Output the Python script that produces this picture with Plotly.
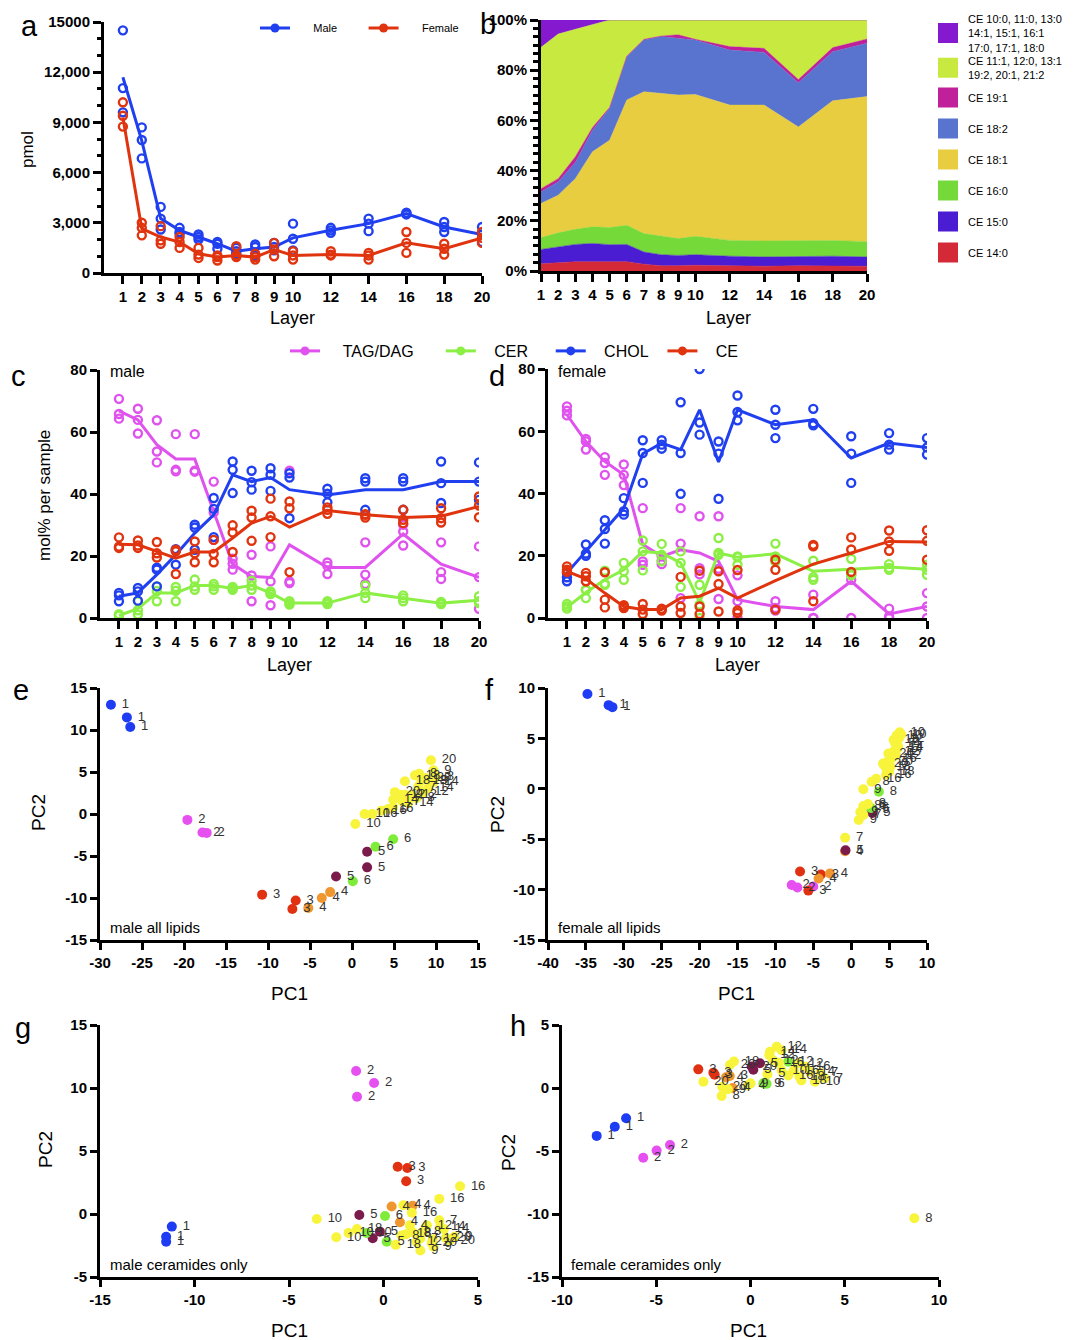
import plotly.graph_objects as go

W, H = 1083, 1340          # target picture size
OFF = 8                    # page body margin offset
FW, FH = W - OFF, H - OFF  # figure size
FONT = "Liberation Sans"

# ---------------- data ----------------
LAYERS = [1, 2, 3, 4, 5, 6, 7, 8, 9, 10, 12, 14, 16, 18, 20]

# panel a : total pmol
a_male_mean = [11700, 7900, 3250, 2550, 2150, 1750, 1300, 1450, 1550, 2100, 2550, 2950, 3550, 2750, 2300]
a_male_pts = [[14500, 11050, 9600], [8700, 7950, 6850], [3950, 3250, 2600], [2700, 2450, 2350],
              [2300, 2150, 2000], [1850, 1750, 1450], [1500, 1300, 1150], [1700, 1550, 1050],
              [1800, 1550, 1350], [2950, 2050, 1350], [2700, 2550, 2400], [3250, 2950, 2500],
              [3600, 3500, 3550], [3050, 2750, 2450], [2750, 2300, 1850]]
a_female_mean = [9300, 2650, 2150, 1850, 1150, 950, 1050, 950, 1400, 1050, 1100, 1050, 1800, 1450, 2100]
a_female_pts = [[10200, 9400, 8750], [3000, 2700, 2250], [2800, 1950, 1750], [2150, 1850, 1500],
                [1500, 1100, 900], [1050, 950, 750], [1600, 1050, 950], [1150, 950, 800],
                [1800, 1400, 1000], [1300, 1050, 800], [1300, 1100, 1050], [1200, 1050, 800],
                [2450, 1800, 1200], [1750, 1450, 1100], [2450, 2100, 1800]]

# panel b : CE species composition (%)
b_ce140 = [2.9, 3.3, 3.7, 3.7, 3.7, 3.7, 2.7, 2.1, 2.1, 2.3, 2.1, 1.9, 2.1, 2.1, 1.9]
b_ce150 = [5.7, 6.3, 6.9, 7.3, 6.8, 6.9, 4.9, 4.4, 4.1, 4.2, 3.8, 3.7, 3.8, 3.8, 3.7]
b_ce160 = [4.7, 5.6, 6.0, 6.6, 6.8, 7.6, 7.3, 7.3, 6.7, 7.3, 6.3, 6.4, 6.1, 6.3, 6.1]
b_ce181 = [13.6, 15.0, 20.2, 29.9, 34.8, 49.9, 56.5, 56.9, 57.2, 56.5, 53.9, 54.1, 45.4, 55.6, 57.8]
b_ce182 = [4.6, 5.3, 6.4, 8.6, 12.7, 17.3, 20.6, 22.7, 22.6, 21.7, 21.9, 21.0, 17.6, 19.6, 21.2]
b_ce191 = [1.3, 1.3, 2.3, 1.1, 0.4, 0.2, 0.3, 0.2, 1.4, 0.3, 1.4, 1.6, 1.3, 1.6, 1.7]
b_odd = [56.3, 57.6, 50.8, 40.8, 34.8, 14.4, 7.7, 6.4, 5.9, 7.7, 10.6, 11.3, 23.7, 11.0, 7.6]
b_short = [10.9, 5.6, 3.7, 2.0, 0.0, 0, 0, 0, 0, 0, 0, 0, 0, 0, 0]
b_names = ["CE 14:0", "CE 15:0", "CE 16:0", "CE 18:1", "CE 18:2", "CE 19:1",
           "CE 11:1, 12:0, 13:1<br>19:2, 20:1, 21:2",
           "CE 10:0, 11:0, 13:0<br>14:1, 15:1, 16:1<br>17:0, 17:1, 18:0"]
b_colors = ["#d42a38", "#4a1cd2", "#76d93a", "#e9cd40", "#5874cf", "#c0209a", "#c8ea40", "#8519d0"]

# panel c : male mol%
c_tag_mean = [66.8, 63.9, 55.9, 51.3, 51.3, 34.4, 17.4, 13.4, 13.1, 23.6, 16.3, 16.3, 27.1, 17.4, 13.1]
c_tag_pts = [[70.7, 65.8, 64.3], [67.5, 63.9, 59.5], [63.8, 53.7, 50.2], [59.3, 47.8, 47.3], [59.3, 47.5, 47.2],
             [44.0, 34.0, 25.2], [15.6, 17.5, 19.1], [20.4, 13.7, 5.4], [23.1, 11.8, 4.1], [47.5, 11.3, 11.8],
             [17.9, 14.2, 16.8], [24.4, 14.0, 11.0], [23.4, 27.9, 30.1], [24.4, 14.8, 12.6], [23.1, 3.0, 13.2]]
c_cer_mean = [0.8, 3.0, 8.1, 8.1, 10.5, 10.5, 9.5, 10.5, 8.1, 4.8, 4.8, 8.1, 6.4, 4.8, 5.7]
c_cer_pts = [[0.8, 1.0, 1.2], [5.4, 2.5, 1.1], [10.2, 5.4, 8.7], [10.0, 5.4, 8.8], [12.4, 9.1, 10.2],
             [11.0, 9.1, 10.2], [9.7, 9.1, 10.0], [12.0, 9.1, 10.5], [8.6, 8.1, 7.7], [5.4, 4.8, 4.3],
             [5.4, 4.8, 4.5], [10.5, 6.4, 8.1], [7.3, 5.4, 6.4], [5.2, 4.8, 4.5], [7.0, 5.4, 4.8]]
c_chol_mean = [7.0, 8.1, 14.0, 20.4, 27.4, 33.3, 46.2, 44.0, 45.3, 41.4, 39.7, 41.4, 41.4, 44.0, 44.0]
c_chol_pts = [[8.1, 5.4, 7.3], [9.7, 5.6, 8.6], [15.6, 10.2, 16.2], [22.2, 17.2, 21.8], [30.1, 22.0, 29.2],
              [38.7, 26.1, 35.2], [50.5, 40.3, 47.8], [47.5, 41.4, 43.8], [48.3, 41.0, 46.2], [46.7, 32.2, 45.3],
              [41.7, 37.3, 40.1], [45.1, 44.0, 34.9], [45.1, 44.0, 34.9], [50.5, 37.1, 43.5], [50.2, 38.1, 44.0]]
c_ce_mean = [23.8, 23.6, 21.5, 19.3, 21.3, 21.3, 25.8, 30.6, 32.8, 29.3, 34.7, 33.3, 32.4, 32.8, 36.0]
c_ce_pts = [[26.0, 22.6, 23.0], [25.0, 22.6, 23.4], [24.5, 19.5, 20.9], [22.0, 14.2, 21.5], [24.7, 18.0, 20.9],
            [25.2, 18.0, 20.7], [29.9, 21.3, 27.6], [34.6, 24.9, 32.4], [38.5, 26.1, 32.8], [37.6, 14.8, 35.4],
            [35.7, 33.6, 34.9], [33.5, 32.4, 33.3], [34.9, 30.6, 31.7], [35.4, 30.8, 32.2], [39.2, 32.5, 36.3]]

# panel d : female mol%
d_tag_mean = [65.3, 56.7, 50.3, 46.0, 23.6, 19.8, 21.9, 20.9, 18.2, 5.9, 3.7, 2.7, 11.8, 1.3, 3.7]
d_tag_pts = [[68.0, 66.6, 65.1], [57.5, 56.8, 54.1], [51.7, 49.8, 46.0], [49.3, 46.0, 42.7], [35.3, 18.2, 17.1],
             [18.4, 17.3, 19.8], [35.3, 23.9, 6.4], [32.7, 16.0, 14.0], [32.7, 6.1, 15.8], [13.7, 5.4, 0.0],
             [5.4, 2.4, 3.2], [7.5, 0.0, 0.0], [12.3, 0.0, 14.0], [3.0, 0.0, 0.5], [8.0, 3.7, 0.0]]
d_cer_mean = [3.4, 8.2, 12.3, 15.5, 21.4, 20.9, 17.7, 5.0, 20.9, 19.5, 20.6, 15.0, 15.7, 16.4, 15.7]
d_cer_pts = [[4.5, 3.0, 3.7], [9.1, 6.4, 9.0], [15.2, 10.7, 11.0], [17.7, 12.3, 15.0], [24.9, 21.4, 15.3],
             [23.8, 18.2, 20.3], [21.4, 17.7, 10.0], [0.0, 4.3, 10.7], [25.7, 20.9, 20.3], [19.5, 17.1, 19.8],
             [23.9, 19.8, 18.1], [18.4, 12.3, 13.1], [19.0, 13.7, 14.5], [17.3, 16.1, 15.5], [17.1, 13.9, 15.5]]
d_chol_mean = [14.5, 21.4, 28.6, 35.3, 52.8, 56.2, 54.1, 66.9, 50.1, 66.9, 62.1, 63.7, 51.4, 56.2, 54.8]
d_chol_pts = [[13.1, 11.8, 14.5], [23.6, 20.7, 20.0], [31.4, 23.9, 28.6], [38.5, 33.2, 34.3], [57.1, 43.4, 53.0],
              [57.1, 54.4, 55.7], [69.3, 39.9, 53.0], [80.0, 62.8, 58.9], [56.7, 38.3, 52.8], [71.5, 66.2, 63.5],
              [66.9, 57.8, 62.1], [67.2, 62.6, 61.9], [58.4, 43.4, 52.8], [59.4, 54.1, 55.7], [57.8, 52.5, 54.8]]
d_ce_mean = [15.0, 12.6, 8.0, 3.7, 2.7, 2.7, 6.4, 7.0, 9.6, 6.4, 12.0, 17.3, 20.9, 24.6, 24.4]
d_ce_pts = [[16.6, 14.8, 15.5], [14.5, 11.8, 13.4], [14.7, 5.9, 3.4], [3.7, 3.2, 4.1], [4.5, 1.3, 2.7],
            [3.0, 2.4, 2.7], [13.2, 3.7, 1.6], [15.2, 3.7, 1.3], [15.0, 10.9, 2.1], [15.4, 2.4, 1.6],
            [18.7, 15.5, 2.7], [23.0, 5.4, 23.5], [25.9, 14.8, 22.0], [28.1, 21.6, 24.6], [28.2, 18.7, 24.8]]

# PCA panels: group 1..6 = layer 1..6, group 7 = layers 7-20
e_pc1 = [-28.7, -26.8, -26.4, -19.6, -17.8, -17.3, -10.7, -6.7, -7.1, -5.2, -3.6, -2.6, -1.9, 1.8, 1.8, 0.1, 2.8, 4.9,
         0.4, 1.5, 2.4, 3.5, 4.3, 4.9, 4.9, 5.1, 5.7, 6.3, 6.7, 6.3, 7.1, 7.5, 7.7, 8.3, 8.5, 9.1, 9.4, 9.7, 9.7, 10.0,
         8.8, 9.3, 7.9, 6.0, 8.0]
e_pc2 = [13.0, 11.5, 10.35, -0.7, -2.2, -2.25, -9.6, -10.3, -11.3, -11.2, -10.0, -9.3, -7.45, -6.35, -4.5, -8.0, -3.9,
         -3.0, -1.2, 0.0, 0.0, 0.4, 0.6, 0.8, 1.7, 2.6, 2.3, 2.3, 1.3, 3.9, 2.3, 4.6, 1.9, 4.0, 2.6, 3.1, 6.4, 5.2, 3.8,
         4.45, 4.3, 4.0, 3.3, 1.5, 4.8]
e_lab = ["1", "1", "1", "2", "2", "2", "3", "3", "3", "4", "4", "4", "5", "5", "5", "6", "6", "6",
         "10", "10", "16", "16", "16", "7", "14", "20", "12", "9", "14", "18", "12", "18", "8", "18", "12", "14",
         "20", "9", "14", "8", "20", "9", "7", "7", "8"]
e_grp = [1, 1, 1, 2, 2, 2, 3, 3, 3, 4, 4, 4, 5, 5, 5, 6, 6, 6] + [7] * 27

f_pc1 = [-34.8, -32.0, -31.5, -7.85, -7.1, -5.0, -6.75, -4.0, -5.65, -4.3, -2.8, -0.8, -0.75, 2.7, 2.8, 2.25, 3.65, 2.6,
         -0.8, 1.0, 1.6, 1.6, 1.6, 2.7, 3.3, 4.6, 4.2, 4.5, 4.8, 5.0, 4.9, 5.3, 5.6, 5.9, 5.8, 5.6, 6.0, 6.4, 6.2, 6.3,
         6.6, 6.1, 5.2, 2.2, 1.2]
f_pc2 = [9.4, 8.3, 8.1, -9.55, -9.8, -9.7, -8.2, -8.5, -10.1, -8.9, -8.4, -6.2, -6.1, -2.1, -2.4, -1.7, -0.3, -1.9,
         -4.85, -3.1, -2.6, -1.7, -0.05, 0.7, 1.0, 1.4, 2.5, 2.2, 2.7, 1.7, 3.5, 3.0, 3.7, 3.3, 4.5, 4.85, 5.3, 5.6, 4.2,
         5.0, 5.4, 4.0, 2.2, -1.5, -2.3]
f_lab = ["1", "1", "1", "2", "2", "2", "3", "3", "3", "4", "4", "4", "5", "5", "5", "6", "8", "6",
         "7", "9", "7", "8", "9", "8", "16", "16", "20", "18", "20", "18", "20", "16", "12", "12", "14", "18", "10",
         "10", "14", "12", "10", "14", "7", "8", "9"]
f_grp = [1, 1, 1, 2, 2, 2, 3, 3, 3, 4, 4, 4, 5, 5, 5, 6, 6, 6] + [7] * 27

g_pc1 = [-11.2, -11.5, -11.5, -1.45, -0.5, -1.4, 0.75, 1.26, 1.2, 0.43, 1.54, 0.87, -1.28, -0.57, -0.19, 0.08, 0.17, -0.9,
         -3.53, -2.5, -1.85, -1.4, 1.05, 1.5, 2.95, 4.05, 2.95, 2.3, 1.55, 1.2, 1.95, 2.6, 3.75, 2.55, 1.95, 2.65, 0.65,
         0.95, 2.1, 3.2, 3.5, 1.75, 3.0, 1.4, 3.3]
g_pc2 = [-1.0, -1.8, -2.2, 11.35, 10.4, 9.3, 3.75, 3.65, 2.6, 0.6, 0.66, -0.65, -0.08, -1.93, -1.4, -0.16, -2.2, -1.5,
         -0.4, -1.85, -1.5, -1.2, 0.7, 0.1, 1.2, 2.2, -0.5, -0.9, -1.45, -1.6, -1.95, -2.0, -1.8, -2.3, -2.9, -2.6, -2.45,
         -1.7, -1.4, -1.2, -2.1, -2.2, -1.0, -0.9, -1.9]
g_lab = ["1", "1", "1", "2", "2", "2", "3", "3", "3", "4", "4", "4", "5", "5", "5", "6", "5", "10",
         "10", "10", "10", "18", "4", "16", "16", "16", "7", "12", "8", "18", "7", "12", "9", "20", "9", "9", "18",
         "8", "8", "14", "20", "12", "14", "4", "20"]
g_grp = [1, 1, 1, 2, 2, 2, 3, 3, 3, 4, 4, 4, 5, 5, 5, 6, 6, 6] + [7] * 27

h_pc1 = [-6.6, -7.2, -8.16, -4.27, -4.98, -5.69, -2.77, -1.97, -1.9, -1.1, -0.95, -1.3, 0.06, 0.5, 0.15, 2.0, 0.68, 0.85,
         8.69, -1.53, -2.5, -1.09, -0.88, 1.03, 1.39, 1.65, 1.0, 2.53, 3.42, 3.95, 3.14, 2.3, 1.65, 0.9, 0.0, -1.2, -1.5,
         2.6, 1.5, 2.0, 2.9, -0.15, 1.2, 2.7, 3.7]
h_pc2 = [-2.4, -3.07, -3.8, -4.52, -4.97, -5.53, 1.48, 1.22, 1.05, 0.95, 0.0, 0.85, 1.7, 1.96, 1.45, 2.09, 0.37, 0.33,
         -10.34, -0.63, 0.5, 1.83, 2.1, 2.88, 3.28, 3.0, 2.6, 1.96, 0.5, 0.77, 1.3, 1.4, 1.4, 1.1, 0.37, -0.1, 0.1,
         0.9, 2.0, 1.0, 1.7, 0.2, 2.2, 0.6, 1.2]
h_lab = ["1", "1", "1", "2", "2", "2", "3", "3", "3", "3", "4", "4", "20", "5", "5", "12", "9", "6",
         "8", "8", "20", "20", "18", "14", "12", "14", "12", "12", "10", "7", "14", "16", "10", "5", "9", "9", "20",
         "18", "16", "16", "16", "4", "12", "18", "7"]
h_grp = [1, 1, 1, 2, 2, 2, 3, 3, 3, 4, 4, 4, 5, 5, 5, 6, 6, 6] + [7] * 27

GROUP_COLORS = {1: "#1f3cf5", 2: "#e650f0", 3: "#e03212", 4: "#f0962e", 5: "#7b1b4b", 6: "#80ec3a", 7: "#f8f43c"}

BLUE, RED = "#2040f0", "#e0340f"
MAG, GRN = "#e052ee", "#8cef45"


# ---------------- helpers (pixel positions of the picture -> figure fractions) ----------------
def px(x):
    return (x - OFF) / FW


def py(y):
    return 1 - (y - OFF) / FH


def dx(l, r):
    return [px(l), px(r)]


def dy(t, b):
    return [py(b), py(t)]


def flat(layers, pts):
    xs, ys = [], []
    for L, reps in zip(layers, pts):
        for v in reps:
            xs.append(L)
            ys.append(v)
    return xs, ys


fig = go.Figure()

TICKFONT = dict(family=FONT, size=15, color="black", weight="bold")
base_axis = dict(showline=True, linewidth=3, linecolor="black", ticks="outside", ticklen=7, tickwidth=3,
                 tickcolor="black", showgrid=False, zeroline=False, tickfont=TICKFONT, fixedrange=True)

NB = "\u00a0"


def series(xa, ya, mean, pts, color, name=None, legend=None):
    xs, ys = flat(LAYERS, pts)
    fig.add_trace(go.Scatter(x=xs, y=ys, mode="markers", xaxis=xa, yaxis=ya, showlegend=False,
                             marker=dict(symbol="circle-open", size=8, color=color, line=dict(width=2.4, color=color))))
    fig.add_trace(go.Scatter(x=LAYERS, y=mean, mode="lines", xaxis=xa, yaxis=ya, showlegend=False,
                             line=dict(color=color, width=3)))
    if name is not None:
        fig.add_trace(go.Scatter(x=[None], y=[None], mode="lines+markers", xaxis=xa, yaxis=ya, name=name,
                                 legend=legend, showlegend=True,
                                 line=dict(color=color, width=3), marker=dict(symbol="circle", size=9, color=color)))


# ----- panel a -----
series("x", "y", a_male_mean, a_male_pts, BLUE, NB * 6 + "Male" + NB * 7, "legend")
series("x", "y", a_female_mean, a_female_pts, RED, NB * 6 + "Female", "legend")

# ----- panel b -----
b_vals = [b_ce140, b_ce150, b_ce160, b_ce181, b_ce182, b_ce191, b_odd, b_short]
for i, (vals, col) in enumerate(zip(b_vals, b_colors)):
    fig.add_trace(go.Scatter(x=LAYERS, y=vals, mode="lines", stackgroup="b", groupnorm="percent" if i == 0 else None,
                             xaxis="x2", yaxis="y2", showlegend=False, fillcolor=col,
                             line=dict(width=0.5, color=col), hoverinfo="skip"))
b_legend_of = {7: "legend2", 6: "legend4"}
for i in reversed(range(len(b_names))):
    fig.add_trace(go.Scatter(x=[None], y=[None], mode="markers", xaxis="x2", yaxis="y2", name=b_names[i],
                             legend=b_legend_of.get(i, "legend5"), legendgroup="b%d" % i, showlegend=True,
                             marker=dict(symbol="square", size=16, color=b_colors[i],
                                         line=dict(width=4, color=b_colors[i]))))

# ----- panels c, d -----
series("x3", "y3", c_tag_mean, c_tag_pts, MAG, NB * 4 + "TAG/DAG" + NB * 5, "legend3")
series("x3", "y3", c_cer_mean, c_cer_pts, GRN, NB * 3 + "CER" + NB * 4, "legend3")
series("x3", "y3", c_chol_mean, c_chol_pts, BLUE, NB * 3 + "CHOL" + NB * 2, "legend3")
series("x3", "y3", c_ce_mean, c_ce_pts, RED, NB * 3 + "CE", "legend3")
series("x4", "y4", d_tag_mean, d_tag_pts, MAG)
series("x4", "y4", d_cer_mean, d_cer_pts, GRN)
series("x4", "y4", d_chol_mean, d_chol_pts, BLUE)
series("x4", "y4", d_ce_mean, d_ce_pts, RED)


# ----- PCA panels -----
def pca(xa, ya, pc1, pc2, lab, grp):
    fig.add_trace(go.Scatter(x=pc1, y=pc2, mode="markers+text", xaxis=xa, yaxis=ya, showlegend=False,
                             text=[NB + s for s in lab], textposition="middle right",
                             textfont=dict(family=FONT, size=13, color="#333333"),
                             marker=dict(size=10, color=[GROUP_COLORS[g] for g in grp], line=dict(width=0)),
                             cliponaxis=False))


pca("x5", "y5", e_pc1, e_pc2, e_lab, e_grp)
pca("x6", "y6", f_pc1, f_pc2, f_lab, f_grp)
pca("x7", "y7", g_pc1, g_pc2, g_lab, g_grp)
pca("x8", "y8", h_pc1, h_pc2, h_lab, h_grp)

# ---------------- axes ----------------
layer_x = dict(base_axis, range=[0, 20], tickvals=LAYERS, ticktext=[str(v) for v in LAYERS], ticklen=8)


def ticks(vals):
    return dict(tickvals=vals, ticktext=[str(v) for v in vals])


leg_common = dict(bgcolor="rgba(0,0,0,0)", itemclick=False, itemdoubleclick=False, traceorder="normal")

lay = dict(
    width=FW, height=FH, autosize=False, margin=dict(l=0, r=0, t=0, b=0, pad=0, autoexpand=False),
    paper_bgcolor="white", plot_bgcolor="white", font=dict(family=FONT, color="black"),
    xaxis=dict(layer_x, domain=dx(104, 482), anchor="y"),
    yaxis=dict(base_axis, domain=dy(22, 273), anchor="x", range=[0, 15000],
               tickvals=[0, 3000, 6000, 9000, 12000, 15000],
               ticktext=["0", "3,000", "6,000", "9,000", "12,000", "15000"], ticklen=8,
               minor=dict(ticks="outside", dtick=1000, ticklen=4, tickwidth=2.5, tickcolor="black")),
    xaxis2=dict(layer_x, domain=dx(541, 867), anchor="y2", range=[1, 20]),
    yaxis2=dict(base_axis, domain=dy(20, 271), anchor="x2", range=[0, 100],
                tickvals=[0, 20, 40, 60, 80, 100], ticktext=["0%", "20%", "40%", "60%", "80%", "100%"],
                ticklen=8, minor=dict(ticks="outside", dtick=20 / 6, ticklen=5, tickwidth=2.5, tickcolor="black")),
    xaxis3=dict(layer_x, domain=dx(100, 479), anchor="y3"),
    yaxis3=dict(base_axis, domain=dy(370, 618), anchor="x3", range=[0, 80], **ticks([0, 20, 40, 60, 80])),
    xaxis4=dict(layer_x, domain=dx(548, 927), anchor="y4"),
    yaxis4=dict(base_axis, domain=dy(369, 618), anchor="x4", range=[0, 80], **ticks([0, 20, 40, 60, 80])),
    xaxis5=dict(base_axis, domain=dx(100, 478), anchor="y5", range=[-30, 15],
                **ticks([-30, -25, -20, -15, -10, -5, 0, 5, 10, 15])),
    yaxis5=dict(base_axis, domain=dy(688, 940), anchor="x5", range=[-15, 15],
                **ticks([-15, -10, -5, 0, 5, 10, 15])),
    xaxis6=dict(base_axis, domain=dx(548, 927), anchor="y6", range=[-40, 10],
                **ticks([-40, -35, -30, -25, -20, -15, -10, -5, 0, 5, 10])),
    yaxis6=dict(base_axis, domain=dy(688, 940), anchor="x6", range=[-15, 10],
                **ticks([-15, -10, -5, 0, 5, 10])),
    xaxis7=dict(base_axis, domain=dx(100, 478), anchor="y7", range=[-15, 5], **ticks([-15, -10, -5, 0, 5])),
    yaxis7=dict(base_axis, domain=dy(1025, 1277), anchor="x7", range=[-5, 15], **ticks([-5, 0, 5, 10, 15])),
    xaxis8=dict(base_axis, domain=dx(562, 939), anchor="y8", range=[-10, 10], **ticks([-10, -5, 0, 5, 10])),
    yaxis8=dict(base_axis, domain=dy(1025, 1277), anchor="x8", range=[-15, 5], **ticks([-15, -10, -5, 0, 5])),
    legend=dict(leg_common, orientation="h", x=px(255), y=py(28), xanchor="left", yanchor="middle",
                font=dict(family=FONT, size=11)),
    legend2=dict(leg_common, orientation="v", x=px(928), y=py(33), xanchor="left", yanchor="middle",
                 font=dict(family=FONT, size=11)),
    legend4=dict(leg_common, orientation="v", x=px(928), y=py(68), xanchor="left", yanchor="middle",
                 font=dict(family=FONT, size=11)),
    legend5=dict(leg_common, orientation="v", x=px(928), y=py(83), xanchor="left", yanchor="top",
                 font=dict(family=FONT, size=11), tracegroupgap=12, traceorder="grouped"),
    legend3=dict(leg_common, orientation="h", x=px(285), y=py(351), xanchor="left", yanchor="middle",
                 font=dict(family=FONT, size=16)),
)
fig.update_layout(**lay)


# ---------------- text annotations ----------------
def txt(x, y, s, size, angle=0, xanchor="center", yanchor="middle"):
    fig.add_annotation(x=px(x), y=py(y), xref="paper", yref="paper", text=s, showarrow=False,
                       font=dict(family=FONT, size=size, color="black"), textangle=angle,
                       xanchor=xanchor, yanchor=yanchor)


for letter, x, y in [("a", 30, 26), ("b", 488, 24), ("c", 19, 376), ("d", 497, 376),
                     ("e", 21, 690), ("f", 489, 690), ("g", 23, 1028), ("h", 518, 1026)]:
    txt(x, y, letter, 29)

txt(28, 150, "pmol", 17, -90)
txt(292, 318, "Layer", 18)
txt(728, 318, "Layer", 18)
txt(45, 496, "mol% per sample", 17, -90)
txt(289, 665, "Layer", 18)
txt(737, 665, "Layer", 18)
txt(108, 372, "male", 16, xanchor="left")
txt(556, 372, "female", 16, xanchor="left")
txt(38, 813, "PC2", 19, -90)
txt(497, 815, "PC2", 19, -90)
txt(45, 1150, "PC2", 19, -90)
txt(508, 1153, "PC2", 19, -90)
txt(289, 993, "PC1", 19)
txt(736, 993, "PC1", 19)
txt(289, 1330, "PC1", 19)
txt(748, 1330, "PC1", 19)
txt(108, 927, "male all lipids", 15, xanchor="left")
txt(556, 927, "female all lipids", 15, xanchor="left")
txt(108, 1264, "male ceramides only", 15, xanchor="left")
txt(569, 1264, "female ceramides only", 15, xanchor="left")

fig.write_html("out.html")
